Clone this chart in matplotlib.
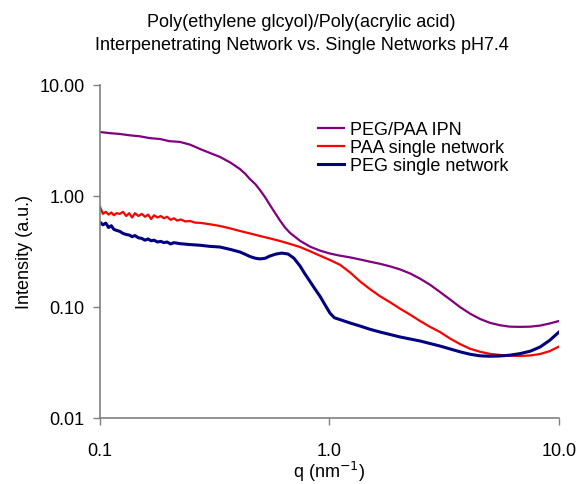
import matplotlib
matplotlib.use("Agg")
import matplotlib.pyplot as plt
from matplotlib.ticker import FixedLocator, FuncFormatter, NullLocator

plt.rcParams["font.family"] = ["Liberation Sans", "DejaVu Sans"]

# IPN curve
q_ipn = [0.100, 0.111, 0.122, 0.135, 0.149, 0.165, 0.183, 0.20, 0.223, 0.247, 0.273, 0.30, 0.333,
         0.37, 0.407, 0.43, 0.45, 0.475, 0.498, 0.525, 0.55, 0.58, 0.609, 0.64, 0.673, 0.744,
         0.822, 0.909, 1.005, 1.111, 1.228, 1.358, 1.5, 1.66, 1.84, 2.03, 2.25, 2.48, 2.75,
         3.03, 3.35, 3.70, 4.1, 4.53, 5.0, 5.53, 6.1, 6.76, 7.5, 8.27, 9.1, 10.0]
i_ipn = [3.77, 3.68, 3.62, 3.52, 3.45, 3.32, 3.26, 3.12, 3.07, 2.90, 2.65, 2.45, 2.25,
         2.00, 1.75, 1.58, 1.42, 1.28, 1.13, 0.97, 0.83, 0.70, 0.60, 0.52, 0.465, 0.395,
         0.350, 0.322, 0.303, 0.290, 0.280, 0.268, 0.256, 0.245, 0.232, 0.218, 0.200, 0.180, 0.158,
         0.1365, 0.117, 0.100, 0.087, 0.078, 0.072, 0.0685, 0.0665, 0.0662, 0.0665, 0.0680, 0.0710, 0.0748]

# PAA single network
q_paa = [0.100, 0.103, 0.106, 0.109, 0.112, 0.115, 0.118, 0.122, 0.126, 0.130, 0.134, 0.138,
         0.142, 0.147, 0.152, 0.157, 0.162, 0.167, 0.172, 0.178, 0.184, 0.19, 0.196, 0.203,
         0.21, 0.217, 0.225, 0.235, 0.247, 0.26, 0.273,
         0.30, 0.333, 0.37, 0.407, 0.45, 0.498, 0.55, 0.609, 0.673, 0.744, 0.822,
         0.909, 1.005, 1.111, 1.228, 1.358, 1.5, 1.66, 1.84, 2.03, 2.25, 2.48, 2.75, 3.03,
         3.35, 3.70, 4.1, 4.53, 5.0, 5.53, 6.1, 6.76, 7.5, 8.27, 9.1, 10.0]
i_paa = [0.80, 0.69, 0.72, 0.68, 0.71, 0.67, 0.70, 0.69, 0.72, 0.66, 0.70, 0.64,
         0.70, 0.66, 0.69, 0.65, 0.68, 0.62, 0.67, 0.64, 0.66, 0.63, 0.65, 0.61,
         0.63, 0.60, 0.615, 0.59, 0.595, 0.575, 0.573,
         0.557, 0.537, 0.51, 0.484, 0.46, 0.436, 0.415, 0.393, 0.37, 0.347, 0.318,
         0.290, 0.265, 0.240, 0.205, 0.170, 0.145, 0.125, 0.110, 0.0965, 0.085, 0.0748, 0.066, 0.0595,
         0.052, 0.0464, 0.042, 0.0395, 0.0378, 0.0370, 0.0364, 0.0362, 0.0366, 0.0377, 0.0400, 0.0440]

# PEG single network
q_peg = [0.100, 0.103, 0.106, 0.109, 0.112, 0.115, 0.118, 0.122, 0.126, 0.130, 0.134, 0.138,
         0.142, 0.147, 0.152, 0.157, 0.162, 0.167, 0.172, 0.178, 0.184, 0.19, 0.196, 0.203,
         0.21, 0.223, 0.247, 0.273, 0.30, 0.333,
         0.37, 0.407, 0.43, 0.45, 0.475, 0.498, 0.525, 0.55, 0.585, 0.62, 0.66, 0.70, 0.744, 0.78,
         0.822, 0.865, 0.909, 0.955, 1.005, 1.05, 1.111, 1.228, 1.358, 1.5, 1.66, 2.03, 2.48,
         3.03, 3.70, 4.1, 4.53, 5.0, 5.53, 6.1, 6.76, 7.5, 8.27, 9.1, 10.0]
i_peg = [0.58, 0.55, 0.57, 0.52, 0.54, 0.50, 0.49, 0.48, 0.46, 0.45, 0.445, 0.43,
         0.44, 0.42, 0.415, 0.40, 0.41, 0.395, 0.40, 0.385, 0.39, 0.38, 0.385, 0.37,
         0.38, 0.372, 0.365, 0.36, 0.352, 0.347,
         0.33, 0.313, 0.298, 0.285, 0.275, 0.271, 0.275, 0.288, 0.30, 0.306, 0.30, 0.275, 0.234, 0.20,
         0.170, 0.145, 0.125, 0.105, 0.088, 0.080, 0.077, 0.0718, 0.0674, 0.063, 0.0595, 0.0537, 0.0494,
         0.0445, 0.0395, 0.0375, 0.0363, 0.0360, 0.0362, 0.0368, 0.0380, 0.0400, 0.0436, 0.0500, 0.0595]

labels = ["PEG/PAA IPN", "PAA single network", "PEG single network"]

fig = plt.figure(figsize=(5.8, 4.85), dpi=100)
ax = fig.add_axes([0.1724, 0.1361, 0.7914, 0.6866])

ax.plot(q_ipn, i_ipn, color="#800080", lw=1.6, label=labels[0])
ax.plot(q_paa, i_paa, color="#FF0000", lw=1.6, label=labels[1])
ax.plot(q_peg, i_peg, color="#000080", lw=2.2, label=labels[2])

ax.set_xscale("log")
ax.set_yscale("log")
ax.set_xlim(0.1, 10)
ax.set_ylim(0.01, 10)

ax.xaxis.set_major_locator(FixedLocator([0.1, 1, 10]))
ax.yaxis.set_major_locator(FixedLocator([0.01, 0.1, 1, 10]))
ax.xaxis.set_minor_locator(NullLocator())
ax.yaxis.set_minor_locator(NullLocator())
ax.xaxis.set_major_formatter(FuncFormatter(lambda v, p: f"{v:.1f}"))
ax.yaxis.set_major_formatter(FuncFormatter(lambda v, p: f"{v:.2f}"))

for s in ["top", "right"]:
    ax.spines[s].set_visible(False)
for s in ["left", "bottom"]:
    ax.spines[s].set_color("#808080")
    ax.spines[s].set_linewidth(1.2)
ax.tick_params(axis="both", direction="out", length=5, width=1, color="#808080",
               labelsize=13, pad=6)
ax.tick_params(axis="x", pad=12)

ax.set_xlabel("q (nm$^{-1}$)", fontsize=13, labelpad=0)
ax.set_ylabel("Intensity (a.u.)", fontsize=13, labelpad=5)
fig.suptitle("Poly(ethylene glcyol)/Poly(acrylic acid)\nInterpenetrating Network vs. Single Networks pH7.4",
             x=0.52, y=0.972, fontsize=13, linespacing=1.5)

ax.legend(loc="upper left", bbox_to_anchor=(0.46, 0.913), frameon=False, fontsize=13,
          handlelength=1.4, handletextpad=0.35, labelspacing=0.05, borderaxespad=0)

fig.savefig("out.png", dpi=100)
